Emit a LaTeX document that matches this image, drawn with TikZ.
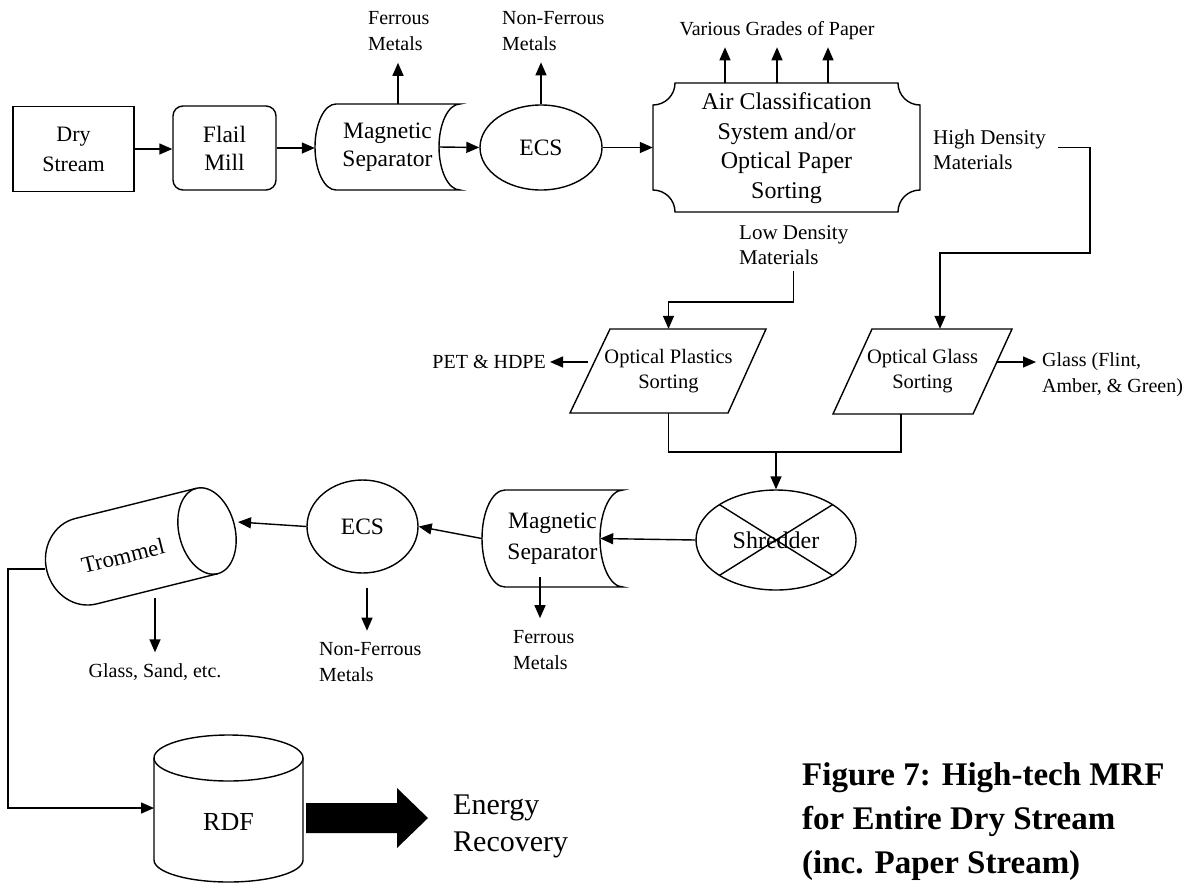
\documentclass[tikz,border=0pt]{standalone}
\usepackage{fontspec}
\setmainfont{Liberation Serif}
\usetikzlibrary{arrows.meta,shapes.geometric,calc}
\newcommand\storedpath[5]{%
 \pgfmathsetmacro\stA{#1}\pgfmathsetmacro\stB{#2}\pgfmathsetmacro\stC{#3}\pgfmathsetmacro\stE{#4}\pgfmathsetmacro\stD{#5}%
 \pgfmathsetmacro\stM{(\stB+\stE)/2}\pgfmathsetmacro\stH{0.5523*(\stE-\stB)/2}\pgfmathsetmacro\stK{0.5523*\stD}%
 \draw[ln] (\stA+\stD,\stB) -- (\stC,\stB) .. controls (\stC-\stK,\stB) and (\stC-\stD,\stM-\stH) .. (\stC-\stD,\stM) .. controls (\stC-\stD,\stM+\stH) and (\stC-\stK,\stE) .. (\stC,\stE) -- (\stA+\stD,\stE) .. controls (\stA+\stD-\stK,\stE) and (\stA,\stM+\stH) .. (\stA,\stM) .. controls (\stA,\stM-\stH) and (\stA+\stD-\stK,\stB) .. cycle;}
\newcommand\plaquepath[5]{%
 \pgfmathsetmacro\plA{#1}\pgfmathsetmacro\plB{#2}\pgfmathsetmacro\plC{#3}\pgfmathsetmacro\plE{#4}\pgfmathsetmacro\plR{#5}\pgfmathsetmacro\plK{0.5523*\plR}%
 \draw[ln] (\plA+\plR,\plB) -- (\plC-\plR,\plB) .. controls (\plC-\plR,\plB+\plK) and (\plC-\plK,\plB+\plR) .. (\plC,\plB+\plR) -- (\plC,\plE-\plR) .. controls (\plC-\plK,\plE-\plR) and (\plC-\plR,\plE-\plK) .. (\plC-\plR,\plE) -- (\plA+\plR,\plE) .. controls (\plA+\plR,\plE-\plK) and (\plA+\plK,\plE-\plR) .. (\plA,\plE-\plR) -- (\plA,\plB+\plR) .. controls (\plA+\plK,\plB+\plR) and (\plA+\plR,\plB+\plK) .. cycle;}
\begin{document}
\begin{tikzpicture}[x=1pt,y=-1pt,
  ln/.style={line width=1.4pt},
  arr/.style={line width=1.4pt,-{Triangle[length=13pt,width=11pt]}},
  box/.style={font=\fontsize{23.5}{28}\selectfont, align=center, inner sep=0pt},
  lbl/.style={font=\fontsize{20}{26}\selectfont, align=left, inner sep=0pt},
  big/.style={font=\fontsize{30}{37}\selectfont, align=left, inner sep=0pt},
  captxt/.style={font=\bfseries\fontsize{33}{44}\selectfont, align=left, inner sep=0pt},
]
\useasboundingbox (0,0) rectangle (1190,884);

% ---------- top row ----------
\node[box, draw, ln, minimum width=121pt, minimum height=85pt, font=\fontsize{22}{30}\selectfont] (dry) at (73.5,149) {Dry\\Stream};
\node[box, draw, ln, rounded corners=10pt, minimum width=103pt, minimum height=84pt] (fm) at (224.5,148) {Flail\\Mill};
\node[box, minimum width=145pt, minimum height=86pt] (ms1) at (387.5,147) {Magnetic\\Separator};
\storedpath{315}{104}{460}{190}{21}
\node[box, draw, ln, ellipse, minimum width=122pt, minimum height=85pt] (ecs1) at (541,147.5) {ECS};
\node[box, font=\fontsize{24}{29.7}\selectfont, minimum width=267pt, minimum height=129pt] (air) at (786.5,148) {Air Classification\\System and/or\\Optical Paper\\Sorting};
\plaquepath{653}{83}{920}{212}{22}

\draw[arr] (dry.east) -- (dry.east -| fm.west);
\draw[arr] (fm.east) -- (fm.east -| ms1.west);
\draw[arr] ([xshift=-21pt]ms1.east) -- (ecs1.west);
\draw[arr] (ecs1.east) -- (ecs1.east -| air.west);

% outputs upwards
\node[lbl, anchor=west] (fe1) at (368,31.5) {Ferrous\\Metals};
\node[lbl, anchor=west] (nf1) at (502,31.5) {Non-Ferrous\\Metals};
\node[lbl] (pap) at (777,31) {Various Grades of Paper};
\draw[arr] ([xshift=10.5pt]ms1.north) -- ([xshift=10.5pt,yshift=41pt]ms1.north);
\draw[arr] (ecs1.north) -- ([yshift=42pt]ecs1.north);
\draw[arr] ([xshift=-61.5pt]air.north) -- ([xshift=-61.5pt,yshift=36pt]air.north);
\draw[arr] ([xshift=-9.5pt]air.north) -- ([xshift=-9.5pt,yshift=36pt]air.north);
\draw[arr] ([xshift=41.5pt]air.north) -- ([xshift=41.5pt,yshift=36pt]air.north);

% density outputs
\node[lbl, anchor=west, font=\fontsize{21}{25}\selectfont] (hd) at (933,149.5) {High Density\\Materials};
\node[lbl, anchor=west, font=\fontsize{21}{25}\selectfont] (ld) at (739,245.5) {Low Density\\Materials};

% ---------- optical sorting ----------
\node[box, font=\fontsize{20.5}{25}\selectfont, minimum width=150pt, minimum height=84pt] (ops) at (668.5,371) {Optical Plastics\\Sorting};
\draw[ln] (610,329) -- (766,329) -- (728,413) -- (570,413) -- cycle;
\node[box, font=\fontsize{20.5}{25}\selectfont, minimum width=130pt, minimum height=85pt] (og) at (922.5,371.5) {Optical Glass\\Sorting};
\draw[ln] (872,329) -- (1012,329) -- (973,414) -- (833,414) -- cycle;

\coordinate (hdc) at (1090,253);
\draw[arr] ([xshift=12pt,yshift=2pt]hd.east) -| (hdc) -| ([xshift=17.5pt]og.north);
\draw[arr] ([yshift=-6pt]ld.south) |- ([yshift=27pt]ops.north) -- (ops.north);

\node[lbl, anchor=east] (pet) at (546,362) {PET \& HDPE};
\draw[arr] ([xshift=-5.5pt,yshift=9pt]ops.west) -- ([xshift=4pt]pet.east);
\node[lbl, anchor=west] (gl) at (1042,374.5) {Glass (Flint,\\Amber, \& Green)};
\draw[arr] ([xshift=9.5pt,yshift=9.5pt]og.east) -- ([xshift=-6pt,yshift=12.5pt]gl.west);

% ---------- shredder ----------
\node[box, draw, ln, ellipse, minimum width=160pt, minimum height=100pt, font=\fontsize{24}{28}\selectfont] (shr) at (776,540) {Shredder};
\draw[ln] ([shift={(-56.6pt,35.4pt)}]shr.center) -- ([shift={(56.6pt,-35.4pt)}]shr.center);
\draw[ln] ([shift={(56.6pt,35.4pt)}]shr.center) -- ([shift={(-56.6pt,-35.4pt)}]shr.center);
\coordinate (mrg) at (776,452);
\coordinate (ogb) at (901,452);
\draw[ln] (ops.south) |- (ogb) -- (ogb |- og.south);
\draw[arr] (mrg) -- (shr.north);

% ---------- lower row ----------
\node[box, font=\fontsize{23.5}{31}\selectfont, minimum width=141pt, minimum height=97pt] (ms2) at (552.5,538.5) {Magnetic\\Separator};
\storedpath{482}{490}{623}{587}{23}
\draw[arr] (shr.west) -- ([xshift=-23pt]ms2.east);
\node[box, draw, ln, ellipse, minimum width=111pt, minimum height=93pt] (ecs2) at (362.5,526.5) {ECS};
\draw[arr] (ms2.west) -- (ecs2.east);

\node[lbl, anchor=west] (fe2) at (513,650.5) {Ferrous\\Metals};
\draw[arr] ([xshift=-12.5pt,yshift=10pt]ms2.south) -- ([xshift=-12.5pt,yshift=-31pt]ms2.south);
\node[lbl, anchor=west] (nf2) at (319,662) {Non-Ferrous\\Metals};
\draw[arr] ([xshift=4.5pt,yshift=-14pt]ecs2.south) -- ([xshift=4.5pt,yshift=-57pt]ecs2.south);

% trommel
\begin{scope}[shift={(207,531)}, rotate=14]
 \draw[ln] (0,0) ellipse[x radius=28pt, y radius=44pt];
 \draw[ln] (0,-44) -- (-125,-44) .. controls (-147.1,-44) and (-165,-24.3) .. (-165,0) .. controls (-165,24.3) and (-147.1,44) .. (-125,44) -- (0,44);
\end{scope}
\node[box, rotate=14, font=\fontsize{23}{28}\selectfont] (trom) at (123,556) {Trommel};
\coordinate (tromin) at (238,522);
\coordinate (tromout) at (45,569);
\coordinate (tromdn) at (155,598);
\coordinate (corner) at (8,569);
\draw[arr] (ecs2.west) -- (tromin);
\node[lbl] (gs) at (155,672) {Glass, Sand, etc.};
\draw[arr] (tromdn) -- ([yshift=11pt]gs.north);

% ---------- RDF ----------
\node[inner sep=0pt, font=\fontsize{26}{30}\selectfont] (rdf) at (228.5,822) {RDF};
\draw[ln] (228.5,758) ellipse[x radius=74.5pt, y radius=23pt];
\draw[ln] (154,758) -- (154,860) arc[start angle=180, end angle=360, x radius=74.5pt, y radius=22pt] -- (303,758);
\draw[arr] (tromout) -- (corner) |- ([xshift=-74.5pt,yshift=14pt]rdf.center);

\node[big, anchor=west] (er) at (453,826.5) {Energy\\Recovery};
\fill (306,803) -- (397,803) -- (397,788) -- (428,818) -- (397,848) -- (397,833) -- (306,833) -- cycle;

\node[captxt, anchor=west] (capt) at (802,822) {Figure 7: High-tech MRF\\for Entire Dry Stream\\(inc. Paper Stream)};
\end{tikzpicture}
\end{document}
